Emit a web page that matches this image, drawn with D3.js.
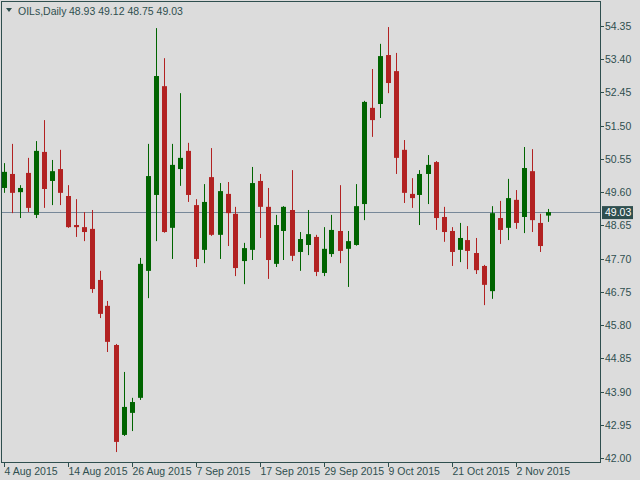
<!DOCTYPE html>
<html>
<head>
<meta charset="utf-8">
<script src="https://cdn.jsdelivr.net/npm/d3@7"></script>
<style>
  body { margin: 0; background: #dcdcdc; }
  text { font-family: "Liberation Sans", Arial, sans-serif; font-size: 10.5px; fill: #2f4f4f; }
</style>
</head>
<body>
<svg id="chart"></svg>
<script>
// daily OHLC, 4 Aug 2015 .. 6 Nov 2015 (weekdays)
const opens  = [49.72,50.12,49.60,50.15,48.95,50.75,49.92,50.26,49.49,48.66,48.60,48.55,47.09,46.35,45.23,42.66,43.29,43.72,47.35,49.52,52.63,48.58,50.26,50.78,49.23,47.95,50.03,48.38,49.55,48.98,47.63,47.95,49.92,49.18,47.55,48.49,49.09,47.89,48.09,48.32,47.29,47.83,48.49,47.98,48.09,49.26,52.01,52.12,53.52,53.06,50.81,49.55,49.52,50.12,50.46,48.89,48.49,47.95,48.23,47.86,47.49,46.77,48.86,48.58,49.38,48.89,50.20,48.72,48.93];
const highs  = [50.43,50.98,49.80,50.58,51.06,51.66,50.52,50.81,49.80,49.40,49.03,49.09,47.35,46.49,45.26,44.46,43.72,47.72,50.98,54.29,53.43,50.98,52.43,51.01,49.40,49.83,50.86,49.86,49.89,49.18,48.15,50.32,50.12,49.72,48.95,49.20,50.23,48.46,49.09,48.38,48.60,48.95,49.80,48.49,49.83,52.21,53.12,53.84,54.32,53.58,51.09,50.00,50.23,50.66,50.49,49.18,48.60,48.72,48.63,48.29,47.52,49.20,49.35,49.98,49.66,50.89,50.83,48.98,49.12];
const lows   = [49.58,49.00,48.86,49.03,48.86,49.15,49.23,49.23,48.58,48.32,48.20,46.72,46.00,45.03,42.17,42.63,42.77,43.66,46.57,48.20,48.44,47.69,49.78,49.32,47.46,47.57,48.35,47.69,48.06,47.20,46.97,47.66,48.29,47.12,47.46,47.66,47.63,47.35,47.80,47.20,47.20,47.75,47.57,46.89,48.07,48.80,51.18,51.72,52.43,50.12,49.29,49.15,48.66,49.26,48.52,48.18,47.49,47.60,47.40,47.26,46.37,46.55,48.12,48.23,48.55,48.43,48.46,47.89,48.75];
const closes = [50.18,49.58,49.72,49.15,50.78,49.69,50.20,49.58,48.60,48.60,48.46,46.83,46.12,45.32,42.46,43.46,43.60,47.55,50.06,52.92,48.46,50.38,50.58,49.52,47.69,49.32,48.38,49.63,49.00,47.43,48.00,49.86,49.18,47.66,48.66,49.18,47.78,48.26,48.40,47.32,47.98,48.52,47.92,48.20,49.20,52.18,51.66,53.49,52.72,50.58,49.58,49.43,50.12,50.38,48.86,48.46,47.89,48.29,47.92,47.37,46.95,49.00,48.52,49.43,48.72,50.29,48.80,48.06,49.03];
const dateTicks = [0, 8, 16, 24, 32, 40, 48, 56, 64];
const dateLabels = ["4 Aug 2015","14 Aug 2015","26 Aug 2015","7 Sep 2015","17 Sep 2015","29 Sep 2015","9 Oct 2015","21 Oct 2015","2 Nov 2015"];
const priceTicks = [42.00,42.95,43.90,44.85,45.80,46.75,47.70,48.65,49.60,50.55,51.50,52.45,53.40,54.35];
const lastPrice = 49.03;

const W = 640, H = 480;
const plot = { left: 2, right: 600, top: 2, bottom: 462 };

const svg = d3.select("#chart").attr("width", W).attr("height", H);

const x = d3.scaleLinear().domain([0, 68]).range([3.5, 547.5]);
const y = d3.scaleLinear().domain([42, 54.35]).range([458, 26]);

const data = opens.map((o, i) => ({ i, o, h: highs[i], l: lows[i], c: closes[i] }));

// last price line
svg.append("line")
    .attr("x1", plot.left).attr("x2", plot.right)
    .attr("y1", Math.round(y(lastPrice)) + 0.5).attr("y2", Math.round(y(lastPrice)) + 0.5)
    .attr("stroke", "#778899");

// candles
const g = svg.append("g").attr("clip-path", "url(#clip)");
svg.append("clipPath").attr("id", "clip").append("rect")
    .attr("x", plot.left).attr("y", plot.top)
    .attr("width", plot.right - plot.left).attr("height", plot.bottom - plot.top);

const color = d => d.c >= d.o ? "#006400" : "#b22222";

g.selectAll(".wick").data(data).enter().append("line")
    .attr("x1", d => Math.round(x(d.i)) + 0.5).attr("x2", d => Math.round(x(d.i)) + 0.5)
    .attr("y1", d => y(d.h)).attr("y2", d => y(d.l))
    .attr("stroke", color);

g.selectAll(".body").data(data).enter().append("rect")
    .attr("x", d => Math.round(x(d.i)) - 2)
    .attr("width", 5)
    .attr("y", d => y(Math.max(d.o, d.c)))
    .attr("height", d => Math.max(1, Math.abs(y(d.o) - y(d.c))))
    .attr("fill", color);

// frame
svg.append("rect")
    .attr("x", plot.left - 0.5).attr("y", plot.top - 0.5)
    .attr("width", plot.right - plot.left + 1).attr("height", plot.bottom - plot.top + 1)
    .attr("fill", "none").attr("stroke", "#2f4f4f");

// price axis
const pt = svg.append("g");
pt.selectAll("line").data(priceTicks).enter().append("line")
    .attr("x1", plot.right).attr("x2", plot.right + 4)
    .attr("y1", d => Math.round(y(d)) + 0.5).attr("y2", d => Math.round(y(d)) + 0.5)
    .attr("stroke", "#2f4f4f");
pt.selectAll("text").data(priceTicks).enter().append("text")
    .attr("x", 605).attr("y", d => y(d) + 4)
    .text(d => d.toFixed(2));

// last price badge
svg.append("rect")
    .attr("x", 602).attr("y", y(lastPrice) - 6)
    .attr("width", 31).attr("height", 13)
    .attr("fill", "#2f4f4f");
svg.append("text")
    .attr("x", 605).attr("y", y(lastPrice) + 4)
    .style("fill", "#ffffff")
    .text(lastPrice.toFixed(2));

// date axis
const dt = svg.append("g");
dt.selectAll("line").data(dateTicks).enter().append("line")
    .attr("x1", d => Math.round(x(d)) + 0.5).attr("x2", d => Math.round(x(d)) + 0.5)
    .attr("y1", plot.bottom).attr("y2", plot.bottom + 5)
    .attr("stroke", "#2f4f4f");
dt.selectAll("text").data(dateTicks).enter().append("text")
    .attr("x", d => x(d) + 1).attr("y", 475)
    .text((d, i) => dateLabels[i]);

// header
svg.append("path").attr("d", "M6,8 L12,8 L9,12 Z").attr("fill", "#2f4f4f");
svg.append("text").attr("x", 18).attr("y", 15).text("OILs,Daily");
svg.append("text").attr("x", 69).attr("y", 15)
    .text([opens[68], highs[68], lows[68], closes[68]].map(v => v.toFixed(2)).join(" "));
</script>
</body>
</html>
